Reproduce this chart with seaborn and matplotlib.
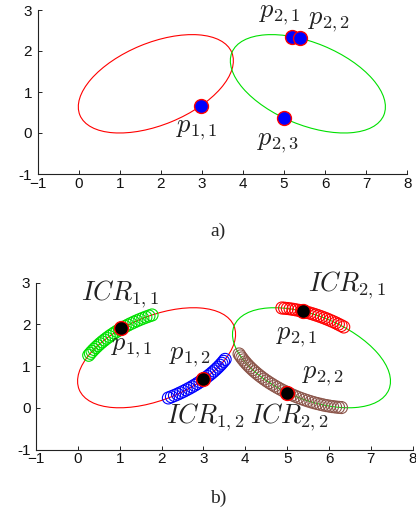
import numpy as np
import pandas as pd
import matplotlib
matplotlib.use("Agg")
import matplotlib.pyplot as plt
from matplotlib.patches import Ellipse
import seaborn as sns

sns.set_theme(style="white")
plt.rcParams["font.family"] = ["Liberation Sans", "DejaVu Sans"]
plt.rcParams["mathtext.fontset"] = "cm"

# ---------------- data ----------------
# ellipses: centre x, centre y, semi-axis a, semi-axis b, rotation (deg)
ell_names = ["E1", "E2"]
ell_cx = [1.88, 5.58]
ell_cy = [1.20, 1.20]
ell_a = [2.0, 2.0]
ell_b = [1.0, 1.0]
ell_rot = [22.5, -22.5]
ell_colors = ["#ff0000", "#00e000"]

# panel a) points
a_px = [2.98, 5.19, 5.39, 5.00]
a_py = [0.66, 2.35, 2.31, 0.36]
a_labels = [r"$p_{1,1}$", r"$p_{2,1}$", r"$p_{2,2}$", r"$p_{2,3}$"]
a_lab_x = [2.88, 4.90, 6.10, 4.85]
a_lab_y = [0.07, 2.88, 2.70, -0.24]

# panel b) points
b_px = [1.02, 2.99, 5.37, 5.00]
b_py = [1.91, 0.68, 2.32, 0.36]
b_labels = [r"$p_{1,1}$", r"$p_{1,2}$", r"$p_{2,1}$", r"$p_{2,2}$"]
b_lab_x = [1.28, 2.67, 5.22, 5.85]
b_lab_y = [1.43, 1.22, 1.69, 0.77]

# ICR arcs: which ellipse, start/end angle on the ellipse (deg), number of circles
icr_ellipse = [0, 0, 1, 1]
icr_t0 = [81.6, -93.1, 77.6, -144.7]
icr_t1 = [137.5, -41.5, 123.7, -56.0]
icr_n = [26, 24, 23, 40]
icr_colors = ["#00e000", "#0000ff", "#ff0000", "#8c564b"]
icr_labels = [r"$ICR_{1,1}$", r"$ICR_{1,2}$", r"$ICR_{2,1}$", r"$ICR_{2,2}$"]
icr_lab_x = [1.00, 3.03, 6.43, 5.04]
icr_lab_y = [2.72, -0.24, 2.94, -0.24]

xticks = [-1, 0, 1, 2, 3, 4, 5, 6, 7, 8]
xticklabels = ["\u22121", "0", "1", "2", "3", "4", "5", "6", "7", "8"]
yticks = [-1, 0, 1, 2, 3]
yticklabels = ["-1", "0", "1", "2", "3"]
panel_names = ["a)", "b)"]

# ---------------- figure ----------------
fig = plt.figure(figsize=(4.16, 5.18), dpi=100)
ax1 = fig.add_axes([37.5 / 416, 1 - 174 / 518, 369.8 / 416, 164 / 518])
ax2 = fig.add_axes([36 / 416, 1 - 449.5 / 518, 376.8 / 416, 166.8 / 518])

math_fs = 19


def style_axes(ax):
    ax.set_xlim(-1, 8)
    ax.set_ylim(-1, 3)
    ax.set_xticks(xticks)
    ax.set_xticklabels(xticklabels)
    ax.set_yticks(yticks)
    ax.set_yticklabels(yticklabels)
    for s in ["top", "right"]:
        ax.spines[s].set_visible(False)
    for s in ["left", "bottom"]:
        ax.spines[s].set_color("#222222")
        ax.spines[s].set_linewidth(0.8)
    ax.tick_params(axis="both", direction="in", length=3, width=0.7,
                   color="#222222", labelsize=11, labelcolor="#111111")
    ax.tick_params(axis="x", pad=2, bottom=True)
    ax.tick_params(axis="y", pad=4, left=True)
    ax.set_facecolor("white")
    ax.set_xlabel("")
    ax.set_ylabel("")


def draw_ellipses(ax):
    for i in range(len(ell_names)):
        ax.add_patch(Ellipse((ell_cx[i], ell_cy[i]), 2 * ell_a[i], 2 * ell_b[i],
                             angle=ell_rot[i], fill=False, edgecolor=ell_colors[i],
                             linewidth=0.8, zorder=2))


def point_on_ellipse(i, theta_deg):
    t = np.deg2rad(theta_deg)
    phi = np.deg2rad(ell_rot[i])
    u = ell_a[i] * np.cos(t)
    v = ell_b[i] * np.sin(t)
    x = ell_cx[i] + u * np.cos(phi) - v * np.sin(phi)
    y = ell_cy[i] + u * np.sin(phi) + v * np.cos(phi)
    return x, y


# panel a
draw_ellipses(ax1)
df_a = pd.DataFrame({"x": a_px, "y": a_py})
sns.scatterplot(data=df_a, x="x", y="y", ax=ax1, s=100, color="#0000ff",
                edgecolor="#ff0000", linewidth=1.0, zorder=4)
for lx, ly, lab in zip(a_lab_x, a_lab_y, a_labels):
    ax1.text(lx, ly, lab, fontsize=math_fs, ha="center", va="center", color="#222222")

# panel b
draw_ellipses(ax2)
for k in range(len(icr_labels)):
    xs, ys = point_on_ellipse(icr_ellipse[k], np.linspace(icr_t0[k], icr_t1[k], icr_n[k]))
    ax2.scatter(xs, ys, s=75, facecolors="none", edgecolors=icr_colors[k],
                linewidths=0.8, zorder=3)
    ax2.text(icr_lab_x[k], icr_lab_y[k], icr_labels[k], fontsize=math_fs,
             ha="center", va="center", color="#222222")
df_b = pd.DataFrame({"x": b_px, "y": b_py})
sns.scatterplot(data=df_b, x="x", y="y", ax=ax2, s=100, color="#000000",
                edgecolor="#ff0000", linewidth=1.0, zorder=5)
for lx, ly, lab in zip(b_lab_x, b_lab_y, b_labels):
    ax2.text(lx, ly, lab, fontsize=math_fs, ha="center", va="center", color="#222222")

style_axes(ax1)
style_axes(ax2)

fig.text(218 / 416, 1 - 231 / 518, panel_names[0], fontsize=14,
         family=["Liberation Serif", "DejaVu Serif"], ha="center", va="center")
fig.text(218 / 416, 1 - 498 / 518, panel_names[1], fontsize=14,
         family=["Liberation Serif", "DejaVu Serif"], ha="center", va="center")

fig.savefig("out.png", dpi=100, facecolor="white")
